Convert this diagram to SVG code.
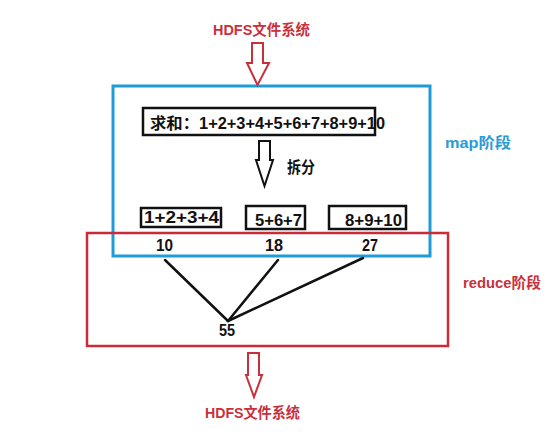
<svg xmlns="http://www.w3.org/2000/svg" width="554" height="435" viewBox="0 0 554 435">
<style>
text{font-family:"Liberation Sans","Noto Sans CJK SC",sans-serif;font-weight:bold;}
.red{fill:#c9303b;font-size:14.5px;}
.blue{fill:#2a9bd6;font-size:14.5px;}
.blk{fill:#111;font-size:16px;}
.box{fill:none;stroke:#111;stroke-width:2.5;}
.harrow{fill:#fff;stroke-width:2;stroke-linejoin:miter;}
</style>
<rect width="554" height="435" fill="#fff"/>
<g id="map-stage">
<rect x="113" y="86" width="317" height="170" fill="none" stroke="#1f9bd7" stroke-width="3"/>
<text class="blue" x="445" y="148" textLength="66" lengthAdjust="spacingAndGlyphs">map阶段</text>
</g>
<g id="reduce-stage">
<rect x="87" y="233" width="361" height="113" fill="none" stroke="#cc2a36" stroke-width="2.5"/>
<text class="red" x="463" y="288" textLength="78" lengthAdjust="spacingAndGlyphs">reduce阶段</text>
</g>
<g id="hdfs-top">
<text class="red" x="213" y="35" textLength="97" lengthAdjust="spacingAndGlyphs">HDFS文件系统</text>
</g>
<g id="hdfs-bottom">
<text class="red" x="205" y="418" textLength="95" lengthAdjust="spacingAndGlyphs">HDFS文件系统</text>
</g>
<g id="sum">
<rect class="box" x="143" y="108" width="232" height="27"/>
<text class="blk" x="150" y="129" textLength="235" lengthAdjust="spacingAndGlyphs">求和：1+2+3+4+5+6+7+8+9+10</text>
</g>
<g id="split-label">
<text class="blk" x="287" y="173" textLength="28" lengthAdjust="spacingAndGlyphs">拆分</text>
</g>
<g id="part1">
<rect class="box" x="141" y="208" width="80" height="19"/>
<text class="blk" x="144" y="223" textLength="75" lengthAdjust="spacingAndGlyphs">1+2+3+4</text>
</g>
<g id="part2">
<rect class="box" x="246" y="206" width="59" height="23"/>
<text class="blk" x="255" y="226" textLength="47" lengthAdjust="spacingAndGlyphs">5+6+7</text>
</g>
<g id="part3">
<rect class="box" x="329" y="206" width="77" height="23"/>
<text class="blk" x="345" y="226" textLength="57" lengthAdjust="spacingAndGlyphs">8+9+10</text>
</g>
<g id="r10"><text class="blk" x="156" y="251" textLength="17" lengthAdjust="spacingAndGlyphs">10</text></g>
<g id="r18"><text class="blk" x="265" y="251" textLength="18" lengthAdjust="spacingAndGlyphs">18</text></g>
<g id="r27"><text class="blk" x="362" y="251" textLength="16" lengthAdjust="spacingAndGlyphs">27</text></g>
<g id="total"><text class="blk" x="219" y="336" textLength="16" lengthAdjust="spacingAndGlyphs">55</text></g>
<g id="connectors">
<path class="harrow" stroke="#c9303b" d="M252,43 H263 V63 H269 L257.5,85 L247,63 H252 Z"/>
<path class="harrow" stroke="#111" d="M259,141 H270 V160 H273 L264.5,186 L256,160 H259 Z"/>
<path class="harrow" stroke="#c9303b" d="M248,353 H259 V375 H262 L254,397 L246,375 H248 Z"/>
<g stroke="#111" stroke-width="2.5" fill="none" stroke-linecap="round">
<line x1="165" y1="260" x2="228" y2="321"/>
<line x1="278" y1="260" x2="228" y2="321"/>
<line x1="363" y1="258" x2="228" y2="321"/>
</g>
</g>
</svg>
